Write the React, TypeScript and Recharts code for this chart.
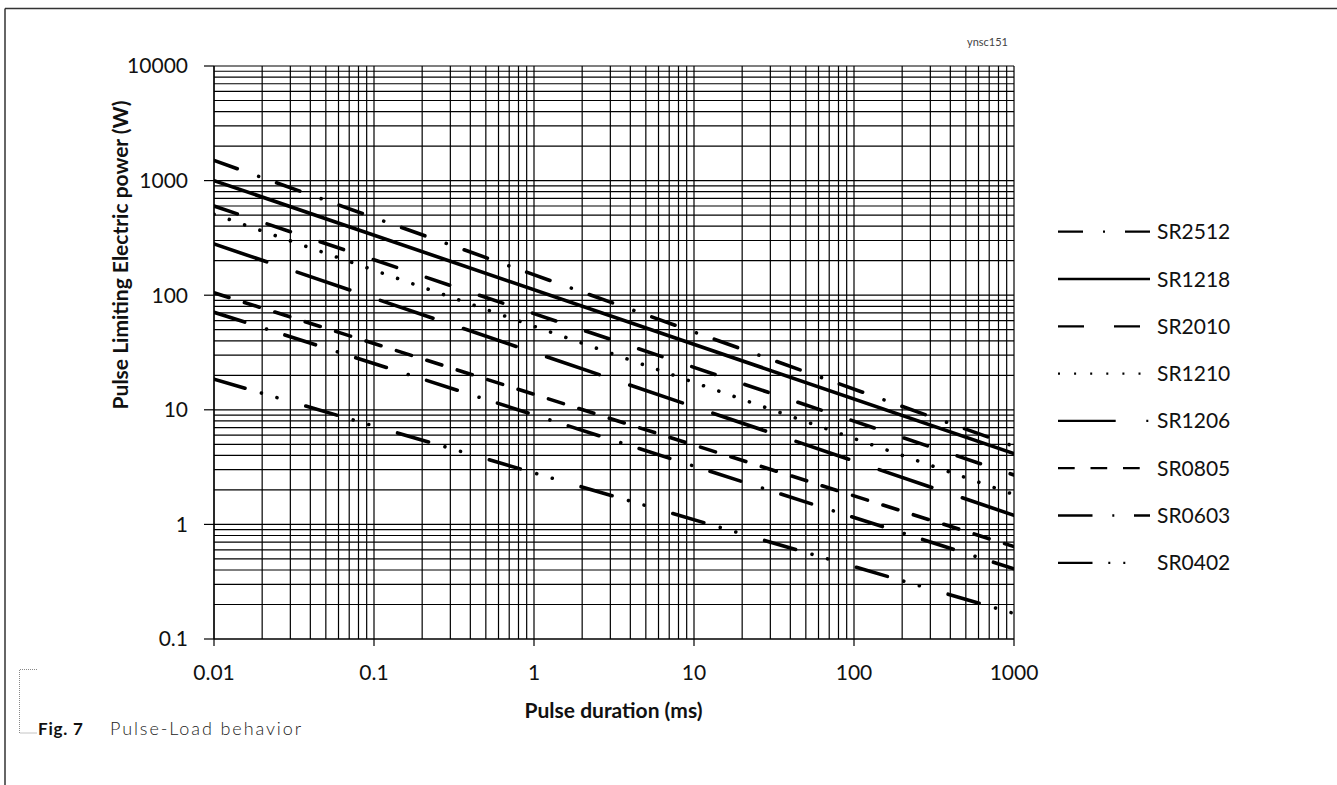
import { LineChart, Line, XAxis, YAxis, ReferenceLine, Legend, Label } from "recharts";

// pulse duration (ms) at the two ends of each curve
const pulseDuration = [0.01, 1000];

// pulse limiting power (W) read at 0.01 ms and 1000 ms
const sr2512 = [1500, 4.8];
const sr1218 = [1000, 4.15];
const sr2010 = [600, 2.7];
const sr1210 = [510, 1.82];
const sr1206 = [280, 1.2];
const sr0805 = [105, 0.64];
const sr0603 = [71, 0.41];
const sr0402 = [18.5, 0.167];

const seriesNames = ["SR2512", "SR1218", "SR2010", "SR1210", "SR1206", "SR0805", "SR0603", "SR0402"];
const seriesValues = [sr2512, sr1218, sr2010, sr1210, sr1206, sr0805, sr0603, sr0402];

// dash patterns on the plot (round caps) and in the legend (butt caps)
const plotDash = [
  "24.7 22.7 0.01 19",
  undefined,
  "24.6 31.4",
  "0.01 16.2",
  "55.6 32.2",
  "15.7 16.2",
  "32.2 22.9 0.01 19.3",
  "32.3 17.1 0.01 16.2 0.01 30",
];
const legendDash = [
  "25 20 2 20",
  undefined,
  "26 30",
  "2 14.1",
  "57.7 30.6 2 10",
  "16.7 15.8",
  "34.5 19.8 2 19.7",
  "34.5 15.8 2 13 2 100",
];

const xTicks = [0.01, 0.1, 1, 10, 100, 1000];
const yTicks = [0.1, 1, 10, 100, 1000, 10000];
const gridSteps = [1, 2, 3, 4, 5, 6, 7, 8, 9];

const FONT = "Lato, 'Open Sans', sans-serif";
const INK = "#000";

const logGrid = (decades: number[]) => [
  ...decades.slice(0, -1).flatMap((d) => gridSteps.map((m) => +(d * m).toPrecision(3))),
  decades[decades.length - 1],
];

const renderLegend = () => (
  <svg width={260} height={400} style={{ display: "block" }}>
    {seriesNames.map((name, i) => {
      const y = 31.7 + i * 47.3;
      return (
        <g key={name}>
          <line
            x1={8}
            x2={100}
            y1={y}
            y2={y}
            stroke={INK}
            strokeWidth={2.3}
            strokeDasharray={legendDash[i]}
          />
          <text x={107} y={y} dy="0.36em" fontFamily={FONT} fontSize={21} fill="#111">
            {name}
          </text>
        </g>
      );
    })}
  </svg>
);

export default function App() {
  return (
    <div style={{ position: "absolute", left: 0, top: 0, width: 1337, height: 785, background: "#fff" }}>
      <svg width={1337} height={785} style={{ position: "absolute", left: 0, top: 0 }}>
        <line x1={5} y1={8.5} x2={1337} y2={8.5} stroke="#333" strokeWidth={1.5} />
        <line x1={5} y1={8.5} x2={5} y2={785} stroke="#333" strokeWidth={1.5} />
        <polyline
          points="37,669.5 19.5,669.5 19.5,733 37,733"
          fill="none"
          stroke="#888"
          strokeWidth={1}
          strokeDasharray="1 1"
        />
        <text x={38} y={735} fontFamily={FONT} fontSize={17} fontWeight={700} fill="#111" letterSpacing={0.8}>
          Fig. 7
        </text>
        <text x={110} y={735} fontFamily={FONT} fontSize={18} fontWeight={300} fill="#222" letterSpacing={1.9}>
          Pulse-Load behavior
        </text>
        <text x={967} y={45.5} fontFamily={FONT} fontSize={11} fill="#444">
          ynsc151
        </text>
      </svg>
      <div style={{ position: "absolute", left: 0, top: 0 }}>
        <LineChart width={1337} height={785} margin={{ top: 66, right: 323, bottom: 86, left: 14 }}>
          <XAxis
            dataKey="x"
            type="number"
            scale="log"
            domain={[0.01, 1000]}
            ticks={xTicks}
            allowDataOverflow
            height={60}
            tickSize={7}
            tickMargin={19}
            axisLine={{ stroke: INK, strokeWidth: 1.2 }}
            tickLine={{ stroke: INK, strokeWidth: 1.2 }}
            tick={{ fontSize: 21, fontFamily: FONT, fill: "#111" }}
            tickFormatter={(v: number) => String(v)}
          >
            <Label
              content={() => (
                <text x={613.5} y={718.3} textAnchor="middle" fontFamily={FONT} fontSize={21} fontWeight={700} fill="#111">
                  Pulse duration (ms)
                </text>
              )}
            />
          </XAxis>
          <YAxis
            dataKey="y"
            type="number"
            scale="log"
            domain={[0.1, 10000]}
            ticks={yTicks}
            allowDataOverflow
            width={200}
            tickSize={10}
            tickMargin={16}
            axisLine={{ stroke: INK, strokeWidth: 1.2 }}
            tickLine={{ stroke: INK, strokeWidth: 1.2 }}
            tick={{ fontSize: 21, fontFamily: FONT, fill: "#111" }}
            tickFormatter={(v: number) => String(v)}
          >
            <Label
              content={() => (
                <text
                  x={128.3}
                  y={255}
                  transform="rotate(-90, 128.3, 255)"
                  textAnchor="middle"
                  fontFamily={FONT}
                  fontSize={21}
                  fontWeight={700}
                  fill="#111"
                >
                  Pulse Limiting Electric power (W)
                </text>
              )}
            />
          </YAxis>
          {logGrid(xTicks).map((v) => (
            <ReferenceLine key={`gx-${v}`} x={v} stroke={INK} strokeWidth={1.2} />
          ))}
          {logGrid(yTicks).map((v) => (
            <ReferenceLine key={`gy-${v}`} y={v} stroke={INK} strokeWidth={1.2} />
          ))}
          <Legend
            layout="horizontal"
            verticalAlign="middle"
            align="center"
            wrapperStyle={{ left: 1050, top: 200, width: 260, height: 400 }}
            content={renderLegend}
          />
          {seriesNames.map((name, i) => (
            <Line
              key={name}
              name={name}
              data={pulseDuration.map((x, j) => ({ x, y: seriesValues[i][j] }))}
              dataKey="y"
              type="linear"
              stroke={INK}
              strokeWidth={3.6}
              strokeDasharray={plotDash[i]}
              strokeLinecap="round"
              dot={false}
              activeDot={false}
              isAnimationActive={false}
            />
          ))}
        </LineChart>
      </div>
    </div>
  );
}
